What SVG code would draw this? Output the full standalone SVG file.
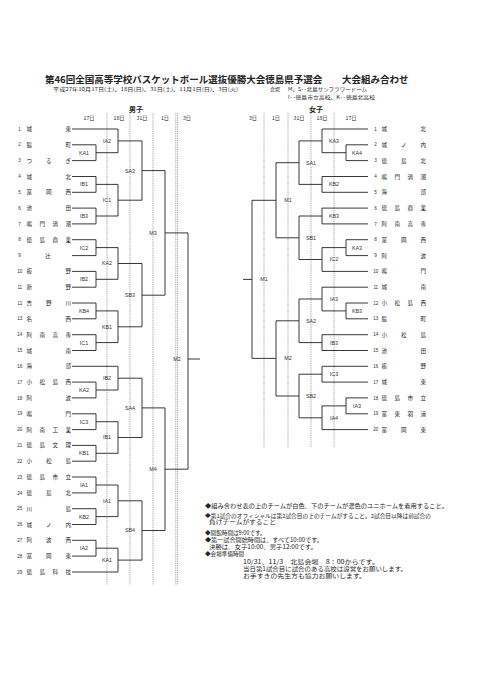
<svg xmlns="http://www.w3.org/2000/svg" width="481" height="680" viewBox="0 0 481 680">
<style>
.bg{fill:#fff}
.t{font-family:"Noto Sans CJK JP","Noto Sans",sans-serif;fill:#222}
.title{font-size:9.5px;font-weight:bold}
.sub{font-size:5px}
.nm{font-size:5.5px}
.no{font-family:"Liberation Sans",sans-serif;font-size:4.6px;fill:#333;text-anchor:middle}
.lb{font-family:"Liberation Sans",sans-serif;font-size:5.4px;fill:#333;text-anchor:middle}
.hd{font-size:5.2px;text-anchor:middle}
.sx{font-size:7px;font-weight:bold;text-anchor:middle}
.note{font-size:5.6px}
.ln{fill:none;stroke:#222;stroke-width:0.9}
.dv{fill:none;stroke:#666;stroke-width:0.6;stroke-dasharray:1 0.8}
</style>
<rect class="bg" width="481" height="680"/>

<g id="header">
<text class="t title" x="45" y="82.5">第46回全国高等学校バスケットボール選抜優勝大会徳島県予選会</text>
<text class="t title" x="342" y="82.5">大会組み合わせ</text>
<text class="t sub" x="53" y="91" textLength="185" lengthAdjust="spacingAndGlyphs">平成27年10月17日(土)、18日(日)、31日(土)、11月1日(日)、3日(火)</text>
<text class="t sub" x="270" y="91">会場</text>
<text class="t sub" x="288" y="91" textLength="79" lengthAdjust="spacingAndGlyphs">M、S‥北島サンフラワードーム</text>
<text class="t sub" x="288" y="99" textLength="87" lengthAdjust="spacingAndGlyphs">I‥徳島市立高校、K‥徳島北高校</text>
</g>

<g id="day-columns">
<text class="t sx" x="136" y="112">男子</text>
<text class="t hd" x="89" y="120">17日</text>
<text class="t hd" x="119" y="120">18日</text>
<text class="t hd" x="142" y="120">31日</text>
<text class="t hd" x="165" y="120">1日</text>
<text class="t hd" x="187" y="120">3日</text>
<text class="t sx" x="316" y="112">女子</text>
<text class="t hd" x="253" y="120">3日</text>
<text class="t hd" x="276" y="120">1日</text>
<text class="t hd" x="299" y="120">31日</text>
<text class="t hd" x="322" y="120">18日</text>
<text class="t hd" x="351" y="120">17日</text>
<path class="dv" d="M107 113V585M130 113V585M153 113V585M175.8 113V585M177.6 113V585M264 113V447M288 113V447M311 113V447M334 113V447"/>
</g>

<g id="connectors">
<path class="ln" d="M72 129H118M72 144.8H96M72 160.6H96M72 176.5H96M72 192.3H96M72 208.1H96M72 223.9H96M72 239.7H96M72 255.6H96M72 271.4H96M72 287.2H96M72 303H96M72 318.8H96M72 334.7H96M72 350.5H96M72 366.3H118M72 382.1H96M72 397.9H96M72 413.8H96M72 429.6H96M72 445.4H96M72 461.2H96M72 477H96M72 492.9H96M72 508.7H96M72 524.5H96M72 540.3H96M72 556.1H96M72 572H118"/>
<path class="ln" d="M96 144.8V160.6M96 152.7H118M96 176.5V192.3M96 184.4H118M96 208.1V223.9M96 216H118M96 239.7V255.6M96 247.6H118M96 271.4V287.2M96 279.3H118M96 303V318.8M96 310.9H118M96 334.7V350.5M96 342.6H118M96 382.1V397.9M96 390H118M96 413.8V429.6M96 421.7H118M96 445.4V461.2M96 453.3H118M96 477V492.9M96 485H118M96 508.7V524.5M96 516.6H118M96 540.3V556.1M96 548.2H118"/>
<path class="ln" d="M118 129V152.7M118 140.9H142M118 184.4V216M118 200.2H142M118 247.6V279.3M118 263.5H142M118 310.9V342.6M118 326.8H142M118 366.3V390M118 378.2H142M118 421.7V453.3M118 437.5H142M118 485V516.6M118 500.8H142M118 548.2V572M118 560.1H142"/>
<path class="ln" d="M142 140.9V200.2M142 170.6H165M142 263.5V326.8M142 295.2H165M142 378.2V437.5M142 407.9H165M142 500.8V560.1M142 530.5H165"/>
<path class="ln" d="M165 170.6V295.2M165 232.9H188M165 407.9V530.5M165 469.2H188M188 232.9V469.2M188 359H200"/>
<path class="ln" d="M368 129H322M368 144.8H346M368 160.6H346M368 176.5H322M368 192.3H322M368 208.1H322M368 223.9H322M368 239.7H346M368 255.6H346M368 271.4H322M368 287.2H322M368 303H346M368 318.8H346M368 334.7H322M368 350.5H322M368 366.3H322M368 382.1H322M368 397.9H346M368 413.8H346M368 429.6H322"/>
<path class="ln" d="M346 144.8V160.6M346 152.7H322M346 239.7V255.6M346 247.6H322M346 303V318.8M346 310.9H322M346 397.9V413.8M346 405.9H322"/>
<path class="ln" d="M322 129V152.7M322 140.9H299M322 176.5V192.3M322 184.4H299M322 208.1V223.9M322 216H299M322 247.6V271.4M322 259.5H299M322 287.2V310.9M322 299H299M322 334.7V350.5M322 342.6H299M322 366.3V382.1M322 374.2H299M322 405.9V429.6M322 417.8H299"/>
<path class="ln" d="M299 140.9V184.4M299 162.7H276M299 216V259.5M299 237.8H276M299 299V342.6M299 320.8H276M299 374.2V417.8M299 396H276"/>
<path class="ln" d="M276 162.7V237.8M276 200.3H252M276 320.8V396M276 358.4H252M252 200.3V358.4M252 279.4H243"/>
</g>

<g id="boys-teams">
<g id="b1"><text class="no" x="19.5" y="130.6">1</text><text class="t nm" x="26.5 65.5" y="131">城東</text></g>
<g id="b2"><text class="no" x="19.5" y="146.4">2</text><text class="t nm" x="26.5 65.5" y="146.8">脇町</text></g>
<g id="b3"><text class="no" x="19.5" y="162.2">3</text><text class="t nm" x="26.5 46 65.5" y="162.6">つるぎ</text></g>
<g id="b4"><text class="no" x="19.5" y="178.1">4</text><text class="t nm" x="26.5 65.5" y="178.5">城北</text></g>
<g id="b5"><text class="no" x="19.5" y="193.9">5</text><text class="t nm" x="26.5 46 65.5" y="194.3">富岡西</text></g>
<g id="b6"><text class="no" x="19.5" y="209.7">6</text><text class="t nm" x="26.5 65.5" y="210.1">池田</text></g>
<g id="b7"><text class="no" x="19.5" y="225.5">7</text><text class="t nm" x="26.5 39.5 52.5 65.5" y="225.9">鳴門渦潮</text></g>
<g id="b8"><text class="no" x="19.5" y="241.3">8</text><text class="t nm" x="26.5 39.5 52.5 65.5" y="241.7">徳島商業</text></g>
<g id="b9"><text class="no" x="19.5" y="257.2">9</text><text class="t nm" x="45.3" y="257.6">辻</text></g>
<g id="b10"><text class="no" x="19.8" y="273">10</text><text class="t nm" x="26.5 65.5" y="273.4">板野</text></g>
<g id="b11"><text class="no" x="19.8" y="288.8">11</text><text class="t nm" x="26.5 65.5" y="289.2">新野</text></g>
<g id="b12"><text class="no" x="19.8" y="304.6">12</text><text class="t nm" x="26.5 46 65.5" y="305">吉野川</text></g>
<g id="b13"><text class="no" x="19.8" y="320.4">13</text><text class="t nm" x="26.5 65.5" y="320.8">名西</text></g>
<g id="b14"><text class="no" x="19.8" y="336.3">14</text><text class="t nm" x="26.5 39.5 52.5 65.5" y="336.7">阿南高専</text></g>
<g id="b15"><text class="no" x="19.8" y="352.1">15</text><text class="t nm" x="26.5 65.5" y="352.5">城南</text></g>
<g id="b16"><text class="no" x="19.8" y="367.9">16</text><text class="t nm" x="26.5 65.5" y="368.3">海部</text></g>
<g id="b17"><text class="no" x="19.8" y="383.7">17</text><text class="t nm" x="26.5 39.5 52.5 65.5" y="384.1">小松島西</text></g>
<g id="b18"><text class="no" x="19.8" y="399.5">18</text><text class="t nm" x="26.5 65.5" y="399.9">阿波</text></g>
<g id="b19"><text class="no" x="19.8" y="415.4">19</text><text class="t nm" x="26.5 65.5" y="415.8">鳴門</text></g>
<g id="b20"><text class="no" x="19.8" y="431.2">20</text><text class="t nm" x="26.5 39.5 52.5 65.5" y="431.6">阿南工業</text></g>
<g id="b21"><text class="no" x="19.8" y="447">21</text><text class="t nm" x="26.5 39.5 52.5 65.5" y="447.4">徳島文理</text></g>
<g id="b22"><text class="no" x="19.8" y="462.8">22</text><text class="t nm" x="26.5 46 65.5" y="463.2">小松島</text></g>
<g id="b23"><text class="no" x="19.8" y="478.6">23</text><text class="t nm" x="26.5 39.5 52.5 65.5" y="479">徳島市立</text></g>
<g id="b24"><text class="no" x="19.8" y="494.5">24</text><text class="t nm" x="26.5 46 65.5" y="494.9">徳島北</text></g>
<g id="b25"><text class="no" x="19.8" y="510.3">25</text><text class="t nm" x="26.5 65.5" y="510.7">川島</text></g>
<g id="b26"><text class="no" x="19.8" y="526.1">26</text><text class="t nm" x="26.5 46 65.5" y="526.5">城ノ内</text></g>
<g id="b27"><text class="no" x="19.8" y="541.9">27</text><text class="t nm" x="26.5 46 65.5" y="542.3">阿波西</text></g>
<g id="b28"><text class="no" x="19.8" y="557.7">28</text><text class="t nm" x="26.5 46 65.5" y="558.1">富岡東</text></g>
<g id="b29"><text class="no" x="19.8" y="573.6">29</text><text class="t nm" x="26.5 39.5 52.5 65.5" y="574">徳島科技</text></g>
</g>

<g id="girls-teams">
<g id="g1"><text class="no" x="375.5" y="130.6">1</text><text class="t nm" x="381.5 420.5" y="131">城北</text></g>
<g id="g2"><text class="no" x="375.5" y="146.4">2</text><text class="t nm" x="381.5 401 420.5" y="146.8">城ノ内</text></g>
<g id="g3"><text class="no" x="375.5" y="162.2">3</text><text class="t nm" x="381.5 401 420.5" y="162.6">徳島北</text></g>
<g id="g4"><text class="no" x="375.5" y="178.1">4</text><text class="t nm" x="381.5 394.5 407.5 420.5" y="178.5">鳴門渦潮</text></g>
<g id="g5"><text class="no" x="375.5" y="193.9">5</text><text class="t nm" x="381.5 420.5" y="194.3">海部</text></g>
<g id="g6"><text class="no" x="375.5" y="209.7">6</text><text class="t nm" x="381.5 394.5 407.5 420.5" y="210.1">徳島商業</text></g>
<g id="g7"><text class="no" x="375.5" y="225.5">7</text><text class="t nm" x="381.5 394.5 407.5 420.5" y="225.9">阿南高専</text></g>
<g id="g8"><text class="no" x="375.5" y="241.3">8</text><text class="t nm" x="381.5 401 420.5" y="241.7">富岡西</text></g>
<g id="g9"><text class="no" x="375.5" y="257.2">9</text><text class="t nm" x="381.5 420.5" y="257.6">阿波</text></g>
<g id="g10"><text class="no" x="375.8" y="273">10</text><text class="t nm" x="381.5 420.5" y="273.4">鳴門</text></g>
<g id="g11"><text class="no" x="375.8" y="288.8">11</text><text class="t nm" x="381.5 420.5" y="289.2">城南</text></g>
<g id="g12"><text class="no" x="375.8" y="304.6">12</text><text class="t nm" x="381.5 394.5 407.5 420.5" y="305">小松島西</text></g>
<g id="g13"><text class="no" x="375.8" y="320.4">13</text><text class="t nm" x="381.5 420.5" y="320.8">脇町</text></g>
<g id="g14"><text class="no" x="375.8" y="336.3">14</text><text class="t nm" x="381.5 401 420.5" y="336.7">小松島</text></g>
<g id="g15"><text class="no" x="375.8" y="352.1">15</text><text class="t nm" x="381.5 420.5" y="352.5">池田</text></g>
<g id="g16"><text class="no" x="375.8" y="367.9">16</text><text class="t nm" x="381.5 420.5" y="368.3">板野</text></g>
<g id="g17"><text class="no" x="375.8" y="383.7">17</text><text class="t nm" x="381.5 420.5" y="384.1">城東</text></g>
<g id="g18"><text class="no" x="375.8" y="399.5">18</text><text class="t nm" x="381.5 394.5 407.5 420.5" y="399.9">徳島市立</text></g>
<g id="g19"><text class="no" x="375.8" y="415.4">19</text><text class="t nm" x="381.5 394.5 407.5 420.5" y="415.8">富東羽浦</text></g>
<g id="g20"><text class="no" x="375.8" y="431.2">20</text><text class="t nm" x="381.5 401 420.5" y="431.6">富岡東</text></g>
</g>

<g id="boys-matches">
<g id="bm-KA1a"><text class="lb" x="84" y="154.6">KA1</text></g>
<g id="bm-IB1a"><text class="lb" x="84" y="186.3">IB1</text></g>
<g id="bm-IB3"><text class="lb" x="84" y="217.9">IB3</text></g>
<g id="bm-IC2"><text class="lb" x="84" y="249.5">IC2</text></g>
<g id="bm-IB2a"><text class="lb" x="84" y="281.2">IB2</text></g>
<g id="bm-KB4"><text class="lb" x="84" y="312.8">KB4</text></g>
<g id="bm-IC1a"><text class="lb" x="84" y="344.5">IC1</text></g>
<g id="bm-KA2a"><text class="lb" x="84" y="391.9">KA2</text></g>
<g id="bm-IC3"><text class="lb" x="84" y="423.6">IC3</text></g>
<g id="bm-KB1a"><text class="lb" x="84" y="455.2">KB1</text></g>
<g id="bm-IA1a"><text class="lb" x="84" y="486.9">IA1</text></g>
<g id="bm-KB2"><text class="lb" x="84" y="518.5">KB2</text></g>
<g id="bm-IA2a"><text class="lb" x="84" y="550.1">IA2</text></g>
<g id="bm-IA2b"><text class="lb" x="107" y="142.8">IA2</text></g>
<g id="bm-IC1b"><text class="lb" x="107" y="202.1">IC1</text></g>
<g id="bm-KA2b"><text class="lb" x="107" y="265.4">KA2</text></g>
<g id="bm-KB1b"><text class="lb" x="107" y="328.7">KB1</text></g>
<g id="bm-IB2b"><text class="lb" x="107" y="380.1">IB2</text></g>
<g id="bm-IB1b"><text class="lb" x="107" y="439.4">IB1</text></g>
<g id="bm-IA1b"><text class="lb" x="107" y="502.7">IA1</text></g>
<g id="bm-KA1b"><text class="lb" x="107" y="562">KA1</text></g>
<g id="bm-SA3"><text class="lb" x="130" y="172.5">SA3</text></g>
<g id="bm-SB3"><text class="lb" x="130" y="297.1">SB3</text></g>
<g id="bm-SA4"><text class="lb" x="130" y="409.8">SA4</text></g>
<g id="bm-SB4"><text class="lb" x="130" y="532.4">SB4</text></g>
<g id="bm-M3"><text class="lb" x="153" y="234.8">M3</text></g>
<g id="bm-M4"><text class="lb" x="153" y="471.1">M4</text></g>
<g id="bm-M2"><text class="lb" x="177" y="360.9">M2</text></g>
</g>

<g id="girls-matches">
<g id="gm-KA4"><text class="lb" x="357" y="154.6">KA4</text></g>
<g id="gm-KA3a"><text class="lb" x="357" y="249.5">KA3</text></g>
<g id="gm-KB3a"><text class="lb" x="357" y="312.8">KB3</text></g>
<g id="gm-IA3a"><text class="lb" x="357" y="407.8">IA3</text></g>
<g id="gm-KA3b"><text class="lb" x="334" y="142.8">KA3</text></g>
<g id="gm-KB2"><text class="lb" x="334" y="186.3">KB2</text></g>
<g id="gm-KB3b"><text class="lb" x="334" y="217.9">KB3</text></g>
<g id="gm-IC2"><text class="lb" x="334" y="261.4">IC2</text></g>
<g id="gm-IA3b"><text class="lb" x="334" y="300.9">IA3</text></g>
<g id="gm-IB3"><text class="lb" x="334" y="344.5">IB3</text></g>
<g id="gm-IC3"><text class="lb" x="334" y="376.1">IC3</text></g>
<g id="gm-IA4"><text class="lb" x="334" y="419.7">IA4</text></g>
<g id="gm-SA1"><text class="lb" x="311" y="164.6">SA1</text></g>
<g id="gm-SB1"><text class="lb" x="311" y="239.7">SB1</text></g>
<g id="gm-SA2"><text class="lb" x="311" y="322.7">SA2</text></g>
<g id="gm-SB2"><text class="lb" x="311" y="397.9">SB2</text></g>
<g id="gm-M1a"><text class="lb" x="288" y="202.2">M1</text></g>
<g id="gm-M2"><text class="lb" x="288" y="360.3">M2</text></g>
<g id="gm-M1b"><text class="lb" x="264" y="281.3">M1</text></g>
</g>

<g id="notes">
<text class="t" style="font-size:5.8px" x="205" y="508" textLength="243" lengthAdjust="spacingAndGlyphs">◆組み合わせ表の上のチームが白色、下のチームが濃色のユニホームを着用すること。</text>
<text class="t" style="font-size:5.2px" x="205" y="517.5" textLength="226" lengthAdjust="spacingAndGlyphs">◆第1試合のオフィシャルは第2試合目の上のチームがすること。2試合目以降は前試合の</text>
<text class="t" style="font-size:5.2px" x="209" y="523.5" textLength="67" lengthAdjust="spacingAndGlyphs">負けチームがすること</text>
<text class="t note" x="205" y="534.5">◆開館時間は9:00です。</text>
<text class="t note" x="205" y="541.5" textLength="118" lengthAdjust="spacingAndGlyphs">◆第一試合開始時間は、すべて10:00です。</text>
<text class="t note" x="209" y="548.5" textLength="108" lengthAdjust="spacingAndGlyphs">決勝は、女子10:00、男子12:00です。</text>
<text class="t note" x="205" y="555.5">◆会場準備時間</text>
<text class="t note" x="243" y="563.5" textLength="136" lengthAdjust="spacingAndGlyphs">10/31、11/3　北島会場　8：00からです。</text>
<text class="t note" x="243" y="570.5" textLength="164" lengthAdjust="spacingAndGlyphs">当日第1試合目に試合のある高校は設営をお願いします。</text>
<text class="t note" x="243" y="577.5" textLength="123" lengthAdjust="spacingAndGlyphs">お手すきの先生方も協力お願いします。</text>
</g>
</svg>
